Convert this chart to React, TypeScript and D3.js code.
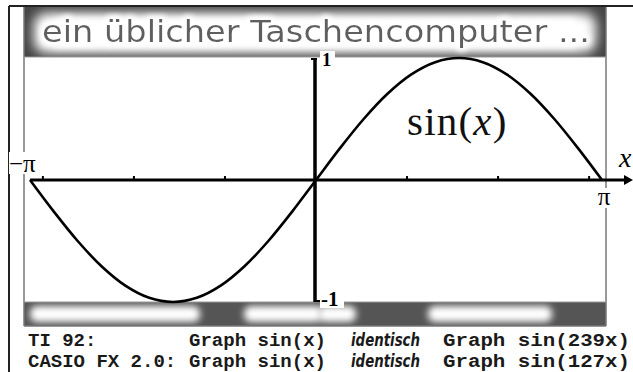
import React from "react";
import * as d3 from "d3";

// ---- data ----
const xDegrees = [-180, -165, -150, -135, -120, -105, -90, -75, -60, -45, -30, -15, 0, 15, 30, 45, 60, 75, 90, 105, 120, 135, 150, 165, 180];
const yValues = [0, -0.259, -0.5, -0.707, -0.866, -0.966, -1, -0.966, -0.866, -0.707, -0.5, -0.259, 0, 0.259, 0.5, 0.707, 0.866, 0.966, 1, 0.966, 0.866, 0.707, 0.5, 0.259, 0];
const xTicks = [-3, -2, -1, 1, 2, 3];
const titleText = "ein üblicher Taschencomputer ...";
const rowLabels = ["TI 92:", "CASIO FX 2.0:"];
const graphLeft = ["Graph sin(x)", "Graph sin(x)"];
const middleWord = ["identisch", "identisch"];
const graphRight = ["Graph sin(239x)", "Graph sin(127x)"];

// decoration of the bottom banner (light blobs)
const bottomGlow: [number, number][] = [[30, 200], [244, 322], [318, 356], [428, 552]];

const W = 633;
const H = 372;

export default function App() {
  const x = d3.scaleLinear().domain([-Math.PI, Math.PI]).range([30, 602]);
  const y = d3.scaleLinear().domain([-1, 1]).range([302, 58]);
  const pts = xDegrees.map((d, i) => [(d / 180) * Math.PI, yValues[i]] as [number, number]);
  const line = d3
    .line<[number, number]>()
    .x((d) => x(d[0]))
    .y((d) => y(d[1]))
    .curve(d3.curveCatmullRom);
  const x0 = x(0);
  const y0 = y(0);
  const panelL = 24;
  const panelR = 606;
  const mono = "'Liberation Mono', 'Courier New', monospace";

  return (
    <svg
      width={W}
      height={H}
      style={{ position: "absolute", left: 0, top: 0, background: "#fff" }}
      fontFamily="'Liberation Serif', serif"
    >
      <defs>
        <filter id="blurBig" x="-20%" y="-50%" width="140%" height="200%">
          <feGaussianBlur stdDeviation="6" />
        </filter>
        <filter id="blurSmall" x="-20%" y="-100%" width="140%" height="300%">
          <feGaussianBlur stdDeviation="3.5" />
        </filter>
        <filter id="glow" x="-10%" y="-50%" width="120%" height="200%">
          <feMorphology operator="dilate" radius="2" in="SourceAlpha" result="d" />
          <feGaussianBlur stdDeviation="3" in="d" result="b" />
          <feFlood floodColor="#fff" />
          <feComposite in2="b" operator="in" result="g" />
          <feMerge>
            <feMergeNode in="g" />
            <feMergeNode in="g" />
            <feMergeNode in="SourceGraphic" />
          </feMerge>
        </filter>
        <clipPath id="topClip">
          <rect x={panelL} y={7} width={panelR - panelL} height={50} />
        </clipPath>
        <clipPath id="botClip">
          <rect x={panelL} y={302} width={panelR - panelL} height={24} />
        </clipPath>
      </defs>

      {/* outer border */}
      <line x1={9} x2={W} y1={6} y2={6} stroke="#222" strokeWidth={2} />
      <line x1={9} x2={9} y1={6} y2={H} stroke="#222" strokeWidth={2} />

      {/* top banner */}
      <g clipPath="url(#topClip)">
        <rect x={panelL} y={7} width={panelR - panelL} height={50} fill="#454545" />
        <rect x={panelL + 10} y={13} width={panelR - panelL - 20} height={40} rx={12} fill="#fff" filter="url(#blurBig)" />
        <rect x={panelL + 30} y={18} width={panelR - panelL - 60} height={30} fill="#fff" filter="url(#blurSmall)" />
      </g>
      <text
        x={42}
        y={42}
        fontFamily="'DejaVu Sans', sans-serif"
        fontSize={31}
        fill="#5e5e5e"
        textLength={548}
        lengthAdjust="spacingAndGlyphs"
        filter="url(#glow)"
      >
        {titleText}
      </text>

      {/* bottom banner */}
      <g clipPath="url(#botClip)">
        <rect x={panelL} y={302} width={panelR - panelL} height={24} fill="#555" />
        {bottomGlow.map(([a, b], i) => (
          <rect key={i} x={a} y={306} width={b - a} height={16} rx={7} fill="#fff" filter="url(#blurSmall)" />
        ))}
      </g>

      {/* panel edges */}
      <line x1={panelL} x2={panelL} y1={7} y2={326} stroke="#777" strokeWidth={1.5} />
      <line x1={panelR} x2={panelR} y1={7} y2={326} stroke="#777" strokeWidth={1.5} />
      <line x1={panelL} x2={panelR} y1={57} y2={57} stroke="#999" strokeWidth={1} />
      <line x1={panelL} x2={panelR} y1={302} y2={302} stroke="#999" strokeWidth={1} />
      <line x1={panelL} x2={panelR} y1={326} y2={326} stroke="#777" strokeWidth={1.5} />

      {/* axes */}
      <line x1={x(-Math.PI)} x2={W - 6} y1={y0} y2={y0} stroke="#000" strokeWidth={3} />
      <path d={`M${W - 9},${y0 - 5} L${W},${y0} L${W - 9},${y0 + 5} Z`} fill="#000" />
      {xTicks.map((t) => (
        <line key={t} x1={x(t)} x2={x(t)} y1={y0 - 4} y2={y0} stroke="#000" strokeWidth={2} />
      ))}
      <line x1={x0 - 1} x2={x0 - 1} y1={y(1)} y2={y(-1)} stroke="#000" strokeWidth={3.5} />
      <line x1={x0 - 5} x2={x0 + 1} y1={y(1) + 1} y2={y(1) + 1} stroke="#000" strokeWidth={2} />
      <line x1={x0 - 2} x2={x0 + 4} y1={y(-1) - 1} y2={y(-1) - 1} stroke="#000" strokeWidth={2} />

      {/* curve */}
      <path d={line(pts) ?? ""} fill="none" stroke="#000" strokeWidth={2.6} />

      {/* y labels */}
      <rect x={320} y={51} width={15} height={15} fill="#fff" />
      <text x={322} y={66} fontSize={18.5} fontWeight="bold">1</text>
      <rect x={320} y={291} width={24} height={17} fill="#fff" />
      <text x={321} y={306} fontSize={21} fontWeight="bold">-1</text>

      {/* x labels */}
      <rect x={9} y={152} width={34} height={22} fill="#fff" />
      <text x={9} y={172} fontSize={25}>−π</text>
      <rect x={596} y={188} width={17} height={20} fill="#fff" />
      <text x={604} y={205} fontSize={25} textAnchor="middle">π</text>
      <rect x={616} y={150} width={17} height={20} fill="#fff" />
      <text x={619} y={167} fontSize={28} fontStyle="italic">x</text>

      {/* sin(x) */}
      <text x={407} y={135} fontSize={41} letterSpacing={1.2} fill="#111">
        sin(<tspan fontStyle="italic">x</tspan>)
      </text>

      {/* bottom caption rows */}
      {rowLabels.map((r, i) => {
        const by = 346 + i * 21;
        return (
          <g key={i} fontWeight="bold" fill="#1a1a1a">
            <text x={28} y={by} fontFamily={mono} fontSize={19}>{r}</text>
            <text x={189} y={by} fontFamily={mono} fontSize={19} textLength={137} lengthAdjust="spacingAndGlyphs">{graphLeft[i]}</text>
            <text
              x={351}
              y={by}
              fontFamily="'DejaVu Sans', sans-serif"
              fontStyle="italic"
              fontSize={17}
              textLength={69}
              lengthAdjust="spacingAndGlyphs"
            >
              {middleWord[i]}
            </text>
            <text x={443} y={by} fontFamily={mono} fontSize={19} textLength={187} lengthAdjust="spacingAndGlyphs">{graphRight[i]}</text>
          </g>
        );
      })}
    </svg>
  );
}
